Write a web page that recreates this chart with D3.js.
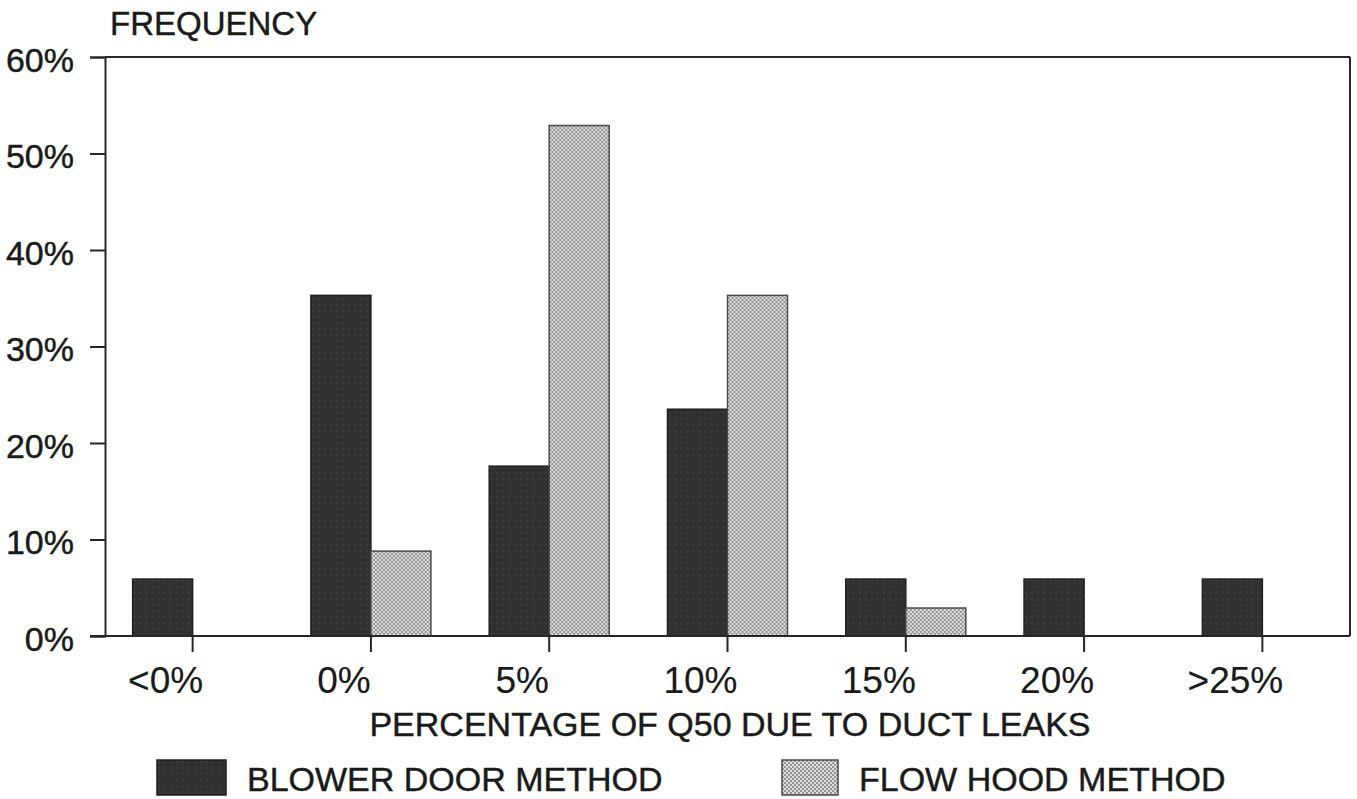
<!DOCTYPE html>
<html>
<head>
<meta charset="utf-8">
<script src="https://cdn.jsdelivr.net/npm/d3@7"></script>
<style>
  html, body { margin: 0; padding: 0; background: #fff; }
  svg { display: block; font-family: 'Liberation Sans', Arial, Helvetica, sans-serif; }
  svg text { stroke: #1a1a1a; stroke-width: 0.45px; }
  svg .xlab text { stroke-width: 0.15px; }
</style>
</head>
<body>
<svg id="chart"></svg>
<script>
const categories = ['<0%', '0%', '5%', '10%', '15%', '20%', '>25%'];
const seriesNames = ['BLOWER DOOR METHOD', 'FLOW HOOD METHOD'];
const blowerDoor = [5.9, 35.3, 17.6, 23.5, 5.9, 5.9, 5.9];
const flowHood = [0, 8.8, 52.9, 35.3, 2.9, 0, 0];
const yTicks = [0, 10, 20, 30, 40, 50, 60];

const W = 1357, H = 799;
const margin = { top: 57, right: 7, bottom: 163, left: 105 };
const width = W - margin.left - margin.right;
const height = H - margin.top - margin.bottom;
const ink = '#262626';

const svg = d3.select('#chart').attr('width', W).attr('height', H);

// textures
const defs = svg.append('defs');
const dots = defs.append('pattern').attr('id', 'dots')
    .attr('patternUnits', 'userSpaceOnUse').attr('width', 4).attr('height', 4);
dots.append('rect').attr('width', 4).attr('height', 4).attr('fill', '#dedede');
dots.append('rect').attr('width', 2).attr('height', 2).attr('fill', '#949494');
dots.append('rect').attr('x', 2).attr('y', 2).attr('width', 2).attr('height', 2).attr('fill', '#949494');
const dark = defs.append('pattern').attr('id', 'dark')
    .attr('patternUnits', 'userSpaceOnUse').attr('width', 6).attr('height', 6);
dark.append('rect').attr('width', 6).attr('height', 6).attr('fill', '#303030');
dark.append('rect').attr('x', 1).attr('y', 1).attr('width', 2).attr('height', 2).attr('fill', '#3b3b3b');

const fills = ['url(#dark)', 'url(#dots)'];

const g = svg.append('g').attr('transform', `translate(${margin.left},${margin.top})`);

const x0 = d3.scaleBand().domain(categories).range([0, width]).paddingInner(0.327).paddingOuter(0.155);
const x1 = d3.scaleBand().domain(seriesNames).range([0, x0.bandwidth()]);
const y = d3.scaleLinear().domain([0, 60]).range([height, 0]);

const rows = categories.map((c, i) => ({ cat: c, vals: [blowerDoor[i], flowHood[i]] }));

// Bars
g.selectAll('.grp').data(rows).enter().append('g')
    .attr('transform', d => `translate(${x0(d.cat)},0)`)
    .selectAll('rect')
    .data(d => d.vals.map((v, j) => ({ key: seriesNames[j], v, j })).filter(e => e.v > 0))
    .enter().append('rect')
    .attr('x', d => x1(d.key))
    .attr('y', d => y(d.v))
    .attr('width', x1.bandwidth())
    .attr('height', d => y(0) - y(d.v))
    .attr('fill', d => fills[d.j])
    .attr('stroke', d => d.j ? '#4a4a4a' : '#1e1e1e')
    .attr('stroke-width', 1.5);

// Frame
g.append('line').attr('x1', 0).attr('x2', width).attr('y1', 0).attr('y2', 0)
    .attr('stroke', ink).attr('stroke-width', 2);
g.append('line').attr('x1', width).attr('x2', width).attr('y1', 0).attr('y2', height)
    .attr('stroke', ink).attr('stroke-width', 2);

// Y axis
const yAxis = g.append('g')
    .call(d3.axisLeft(y).tickValues(yTicks).tickSize(15).tickPadding(16).tickFormat(d => d + '%'));
yAxis.selectAll('line').attr('stroke', ink).attr('stroke-width', 2);
yAxis.select('.domain').attr('stroke', ink).attr('stroke-width', 2);
yAxis.selectAll('text').attr('font-size', 34).attr('fill', '#1a1a1a').attr('dy', '0.42em');

// X axis (ticks at the middle of each pair, labels under the dark bar)
const xAxis = g.append('g').attr('class', 'xlab').attr('transform', `translate(0,${height})`)
    .call(d3.axisBottom(x0).tickSizeInner(16).tickSizeOuter(0).tickPadding(17));
xAxis.select('.domain').attr('stroke', ink).attr('stroke-width', 2).attr('d', `M-15,0H${width}`);
xAxis.selectAll('line').attr('stroke', ink).attr('stroke-width', 2);
xAxis.selectAll('text').attr('font-size', 37).attr('fill', '#1a1a1a').attr('x', -27).attr('dy', '0.66em');

// Titles
svg.append('text').attr('x', 110).attr('y', 35)
    .attr('font-size', 33).attr('fill', '#1a1a1a').text('FREQUENCY');
svg.append('text').attr('x', 730).attr('y', 736)
    .attr('text-anchor', 'middle').attr('font-size', 34).attr('fill', '#1a1a1a')
    .text('PERCENTAGE OF Q50 DUE TO DUCT LEAKS');

// Legend
const legendX = [157, 782];
const legendW = [69, 56];
const legend = svg.selectAll('.leg').data(seriesNames).enter().append('g')
    .attr('transform', (d, i) => `translate(${legendX[i]},760)`);
legend.append('rect').attr('width', (d, i) => legendW[i]).attr('height', 35)
    .attr('fill', (d, i) => fills[i]).attr('stroke', (d, i) => i ? '#4a4a4a' : '#1e1e1e').attr('stroke-width', 1.5);
legend.append('text').attr('x', (d, i) => legendW[i] + 21).attr('y', 31)
    .attr('font-size', 34).attr('fill', '#1a1a1a').text(d => d);
</script>
</body>
</html>
